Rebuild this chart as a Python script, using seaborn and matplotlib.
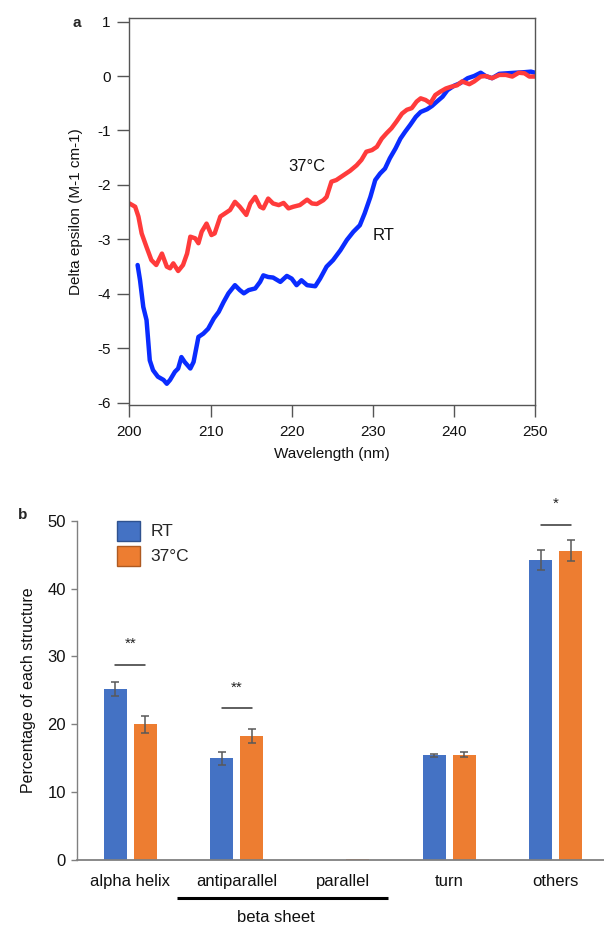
import numpy as np
import pandas as pd
import matplotlib
matplotlib.use("Agg")
import matplotlib.pyplot as plt
from matplotlib.patches import Patch
import seaborn as sns

# ---------------- data: panel a (CD spectra) ----------------
wl_37 = [200.0, 200.7, 201.1, 201.5, 202.1, 202.7, 203.3, 204.0, 204.6, 205.0, 205.4, 206.0, 206.6,
         207.1, 207.5, 208.1, 208.5, 208.9, 209.5, 210.1, 210.5, 211.2, 211.8, 212.4, 213.0, 213.6,
         214.4, 214.9, 215.5, 216.1, 216.5, 217.1, 217.7, 218.4, 219.0, 219.6, 220.2, 221.0, 221.9,
         222.5, 223.1, 223.9, 224.3, 224.9, 225.5, 226.4, 227.2, 228.0, 228.6, 229.2, 229.9, 230.5,
         231.1, 231.7, 232.3, 232.9, 233.6, 234.2, 234.8, 235.4, 235.9, 236.5, 237.1, 237.7, 238.3,
         239.0, 239.6, 240.4, 241.0, 241.9, 242.5, 243.3, 243.9, 244.7, 245.6, 246.4, 247.2, 248.0,
         248.7, 249.3, 250.0]
de_37 = [-2.34, -2.40, -2.58, -2.89, -3.14, -3.38, -3.47, -3.26, -3.50, -3.53, -3.44, -3.58, -3.47,
         -3.26, -2.95, -2.98, -3.07, -2.86, -2.71, -2.92, -2.89, -2.58, -2.52, -2.46, -2.31, -2.40,
         -2.55, -2.34, -2.22, -2.40, -2.43, -2.25, -2.34, -2.37, -2.33, -2.43, -2.40, -2.37, -2.27,
         -2.34, -2.35, -2.28, -2.22, -1.94, -1.91, -1.82, -1.74, -1.64, -1.54, -1.39, -1.36, -1.30,
         -1.15, -1.05, -0.96, -0.84, -0.69, -0.62, -0.59, -0.47, -0.41, -0.44, -0.50, -0.35, -0.29,
         -0.23, -0.20, -0.17, -0.10, -0.15, -0.10, -0.01, 0.00, -0.04, 0.02, 0.02, -0.01, 0.06,
         0.05, -0.01, -0.01]

wl_rt = [201.0, 201.3, 201.7, 202.1, 202.3, 202.5, 202.9, 203.5, 204.2, 204.6, 205.0, 205.6, 206.0,
         206.4, 206.8, 207.5, 207.9, 208.5, 209.1, 209.7, 210.4, 211.0, 211.6, 212.2, 213.0, 213.6,
         214.1, 214.7, 215.5, 216.1, 216.5, 217.1, 217.7, 218.6, 219.4, 220.0, 220.6, 221.2, 221.9,
         222.9, 223.5, 224.3, 225.1, 226.0, 226.8, 227.6, 228.4, 229.0, 229.7, 230.3, 230.9, 231.5,
         232.1, 232.8, 233.4, 234.0, 234.6, 235.3, 235.9, 236.7, 237.3, 237.9, 238.6, 239.2, 240.0,
         240.8, 241.7, 242.5, 243.3, 243.9, 244.7, 245.6, 246.6, 247.6, 248.7, 249.5, 250.0]
de_rt = [-3.47, -3.75, -4.24, -4.48, -4.85, -5.22, -5.40, -5.52, -5.58, -5.65, -5.58, -5.43, -5.37,
         -5.16, -5.25, -5.37, -5.25, -4.79, -4.73, -4.64, -4.45, -4.33, -4.15, -3.99, -3.84, -3.93,
         -3.99, -3.93, -3.90, -3.78, -3.66, -3.69, -3.70, -3.78, -3.67, -3.72, -3.84, -3.75, -3.84,
         -3.86, -3.72, -3.50, -3.38, -3.20, -3.01, -2.86, -2.74, -2.52, -2.22, -1.91, -1.79, -1.70,
         -1.51, -1.33, -1.15, -1.02, -0.90, -0.75, -0.66, -0.61, -0.55, -0.47, -0.38, -0.26, -0.18,
         -0.13, -0.04, 0.00, 0.06, 0.00, -0.04, 0.04, 0.05, 0.06, 0.07, 0.08, 0.06]

# ---------------- data: panel b (secondary structure) ----------------
structures = ["alpha helix", "antiparallel", "parallel", "turn", "others"]
conditions = ["RT", "37°C"]
pct_rt = [25.2, 15.0, 0.0, 15.4, 44.2]
pct_37 = [20.0, 18.3, 0.2, 15.5, 45.6]
err_rt = [1.1, 0.95, 0.0, 0.25, 1.5]
err_37 = [1.25, 1.0, 0.0, 0.35, 1.5]
sig_labels = ["**", "**", "", "", "*"]
sig_heights = [28.8, 22.4, None, None, 49.4]

# ---------------- style ----------------
sns.set_style("white")
plt.rcParams["font.family"] = ["Liberation Sans", "DejaVu Sans"]
plt.rcParams["axes.unicode_minus"] = False

fig = plt.figure(figsize=(6.04, 9.27), dpi=100)

# ================= panel a =================
ax1 = fig.add_axes([0.2144, 0.5631, 0.6714, 0.4172])
df_a = pd.concat([
    pd.DataFrame({"wl": wl_rt, "de": de_rt, "cond": "RT"}),
    pd.DataFrame({"wl": wl_37, "de": de_37, "cond": "37°C"}),
])
sns.lineplot(data=df_a, x="wl", y="de", hue="cond", palette={"RT": "#0a2cff", "37°C": "#ff3b3b"},
             linewidth=3.2, sort=False, legend=False, ax=ax1, estimator=None)
ax1.set_xlim(200, 250)
ax1.set_ylim(-6.04, 1.06)
ax1.set_xticks([200, 210, 220, 230, 240, 250])
ax1.set_yticks([1, 0, -1, -2, -3, -4, -5, -6])
ax1.tick_params(axis="both", which="major", bottom=True, left=True, direction="out",
                length=8.5, width=1, color="#555555", labelsize=11, labelcolor="#111111")
ax1.tick_params(axis="x", pad=6)
ax1.tick_params(axis="y", pad=5)
for s in ax1.spines.values():
    s.set_visible(True)
    s.set_color("#555555")
    s.set_linewidth(1.0)
ax1.set_xlabel("Wavelength (nm)", fontsize=11, labelpad=6, color="#111111")
ax1.set_ylabel("Delta epsilon (M-1 cm-1)", fontsize=11, labelpad=10, color="#111111")
ax1.text(221.9, -1.67, "37°C", fontsize=12, ha="center", va="center", color="#111111")
ax1.text(231.3, -2.92, "RT", fontsize=12, ha="center", va="center", color="#111111")
fig.text(77 / 604, 1 - 23 / 927, "a", fontsize=11, fontweight="bold", ha="center", va="center")

# ================= panel b =================
ax2 = fig.add_axes([77 / 604, 0.0723, 1 - 77 / 604, 0.366])
df_b = pd.DataFrame({
    "structure": structures * 2,
    "cond": ["RT"] * len(structures) + ["37°C"] * len(structures),
    "pct": pct_rt + pct_37,
})
colors_b = {"RT": "#4472c4", "37°C": "#ed7d31"}
sns.barplot(data=df_b, x="structure", y="pct", hue="cond", hue_order=conditions,
            order=structures, palette=colors_b, width=0.565, gap=0.23,
            errorbar=None, linewidth=0, legend=False, ax=ax2, saturation=1)

# error bars placed at the drawn bars
centers = {}
for cond, cont, errs in zip(conditions, ax2.containers, [err_rt, err_37]):
    xs = [b.get_x() + b.get_width() / 2 for b in cont]
    hs = [b.get_height() for b in cont]
    centers[cond] = xs
    for x, h, e in zip(xs, hs, errs):
        if e > 0:
            ax2.errorbar(x, h, yerr=e, fmt="none", ecolor="#595959", elinewidth=1.1,
                         capsize=2.8, capthick=1.1, zorder=3)

# significance markers
for i, (lab, hgt) in enumerate(zip(sig_labels, sig_heights)):
    if hgt is None:
        continue
    x0, x1 = centers["RT"][i], centers["37°C"][i]
    ax2.plot([x0, x1], [hgt, hgt], color="#333333", lw=1.1, clip_on=False)
    ax2.text((x0 + x1) / 2, hgt + 2.0, lab, ha="center", va="bottom", fontsize=11,
             color="#222222", clip_on=False)

ax2.set_xlim(-0.5, 4.455)
ax2.set_ylim(0, 50)
ax2.set_yticks([0, 10, 20, 30, 40, 50])
ax2.tick_params(axis="y", left=True, direction="out", length=4, width=1, color="#808080",
                labelsize=12, pad=4, labelcolor="#111111")
ax2.tick_params(axis="x", bottom=False, length=0, labelsize=12, pad=10, labelcolor="#111111")
ax2.set_xlabel("")
ax2.set_ylabel("Percentage of each structure", fontsize=11.5, labelpad=8, color="#111111")
for side in ["top", "right"]:
    ax2.spines[side].set_visible(False)
ax2.spines["left"].set_color("#808080")
ax2.spines["left"].set_linewidth(1.0)
ax2.spines["bottom"].set_color("#808080")
ax2.spines["bottom"].set_linewidth(1.3)

# beta sheet bracket
trans = ax2.get_xaxis_transform()
ax2.plot([0.439, 2.425], [-0.112, -0.112], transform=trans, color="black", lw=2.2,
         clip_on=False, solid_capstyle="butt")
ax2.text(1.374, -0.17, "beta sheet", transform=trans, ha="center", va="center",
         fontsize=12, color="#111111")

handles = [Patch(facecolor=colors_b["RT"], edgecolor="#2f528f", linewidth=1.0),
           Patch(facecolor=colors_b["37°C"], edgecolor="#ae5a21", linewidth=1.0)]
ax2.legend(handles, conditions, loc="upper left", bbox_to_anchor=(0.076, 1.0), frameon=False,
           fontsize=12.5, handlelength=1.33, handleheight=1.38, labelspacing=0.3,
           handletextpad=0.58, borderaxespad=0, borderpad=0)
fig.text(23 / 604, 1 - 515 / 927, "b", fontsize=11, fontweight="bold", ha="center", va="center")

fig.savefig("out.png", dpi=100)
